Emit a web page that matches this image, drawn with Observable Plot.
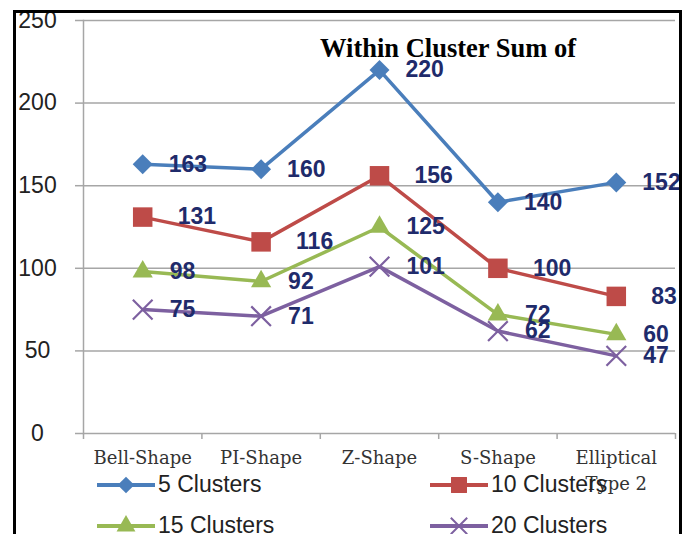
<!DOCTYPE html>
<html>
<head>
<meta charset="utf-8">
<script src="https://cdn.jsdelivr.net/npm/d3@7"></script>
<script src="https://cdn.jsdelivr.net/npm/@observablehq/plot@0.6"></script>
<style>
  html, body { margin: 0; padding: 0; background: #fff; }
  #chart { position: relative; width: 686px; height: 534px; overflow: hidden; background: #fff; }
  #chart > svg { position: absolute; left: 0; top: 0; }
  .frame { position: absolute; left: 13px; top: 10px; width: 663px; height: 600px;
           border: 3px solid #000; border-bottom: none; pointer-events: none; }
  .title { position: absolute; left: 248px; width: 400px; top: 35px; text-align: center;
           font: bold 26.5px "Liberation Serif", "Times New Roman", serif; color: #000; line-height: 1; }
  .legend-item { position: absolute; display: flex; align-items: center;
                 font: 23px "Liberation Sans", Arial, sans-serif; color: #222; white-space: nowrap; }
  .legend-item svg { display: block; margin-right: 1px; }
</style>
</head>
<body>
<div id="chart"></div>
<script>
// Shapes on the x axis and the within-cluster sums for each cluster count
const categories = ["Bell-Shape", "PI-Shape", "Z-Shape", "S-Shape", "Elliptical\nType 2"];
const seriesNames = ["5 Clusters", "10 Clusters", "15 Clusters", "20 Clusters"];
const clusters5  = [163, 160, 220, 140, 152];
const clusters10 = [131, 116, 156, 100, 83];
const clusters15 = [98, 92, 125, 72, 60];
const clusters20 = [75, 71, 101, 62, 47];
const yTicks = [0, 50, 100, 150, 200, 250];
const titleText = "Within Cluster Sum of";

// Series styling
const colors  = ["#4A7EBB", "#BE4B48", "#98B954", "#7D60A0"];
const symbols = ["diamond2", "square", "triangle", "times"];
const radii   = [9, 11, 7.5, 9];
const labelDx = [26, 35, 27, 27];

const seriesValues = [clusters5, clusters10, clusters15, clusters20];
const rows = seriesValues.flatMap((vals, s) =>
  vals.map((value, i) => ({ series: seriesNames[s], s, i, value }))
);
const bounds = d3.range(categories.length + 1).map(i => i - 0.5);

const gray = "#A6A6A6";
const sans = "'Liberation Sans', Arial, sans-serif";

const marks = [
  Plot.gridY(yTicks, { stroke: gray, strokeOpacity: 1, strokeWidth: 1.5 }),
  Plot.frame({ anchor: "left", stroke: gray, strokeWidth: 1.5 }),
  Plot.axisY({
    ticks: yTicks, tickSize: 8, tickPadding: 38, stroke: gray, strokeWidth: 1.5, label: null,
    textAnchor: "middle", fontSize: 23, fontFamily: sans, fill: "#222"
  }),
  Plot.axisX({ ticks: bounds, tickSize: 6, tickFormat: () => "", stroke: gray, strokeWidth: 1.5, label: null }),
  Plot.axisX({
    ticks: d3.range(categories.length), tickSize: 0, tickPadding: 13, label: null,
    tickFormat: i => categories[i], fontSize: 18, lineHeight: 1.4,
    fontFamily: "'DejaVu Serif', serif", fill: "#333"
  }),
  Plot.line(rows, { x: "i", y: "value", z: "series", stroke: "series", strokeWidth: 3.5 })
];

seriesNames.forEach((name, s) => {
  const data = rows.filter(d => d.s === s);
  const filled = symbols[s] !== "times";
  marks.push(Plot.dot(data, {
    x: "i", y: "value", symbol: () => symbols[s], r: radii[s],
    fill: filled ? colors[s] : "none",
    stroke: colors[s], strokeWidth: filled ? 0 : 2.2
  }));
});

seriesNames.forEach((name, s) => {
  marks.push(Plot.text(rows.filter(d => d.s === s), {
    x: "i", y: "value", text: d => String(d.value), dx: labelDx[s],
    textAnchor: "start", fill: "#1F2B6B", fontWeight: "bold",
    fontSize: 23, fontFamily: sans
  }));
});

const chart = Plot.plot({
  width: 686, height: 534,
  marginLeft: 83, marginRight: 11, marginTop: 20, marginBottom: 101,
  x: { domain: [-0.5, categories.length - 0.5], axis: null },
  y: { domain: [0, 250], axis: null },
  color: { domain: seriesNames, range: colors },
  symbol: { domain: symbols, range: symbols },
  style: { background: "transparent", overflow: "visible" },
  marks
});

const root = document.getElementById("chart");
root.appendChild(chart);

const title = document.createElement("div");
title.className = "title";
title.textContent = titleText;
root.appendChild(title);

// Legend: two columns, two rows
const legendPos = [[95, 471], [428, 471], [95, 512], [428, 512]];
const legendR = [7.5, 9, 7, 7.5];
seriesNames.forEach((name, s) => {
  const item = document.createElement("div");
  item.className = "legend-item";
  item.style.left = legendPos[s][0] + "px";
  item.style.top = legendPos[s][1] + "px";
  const svg = d3.create("svg").attr("width", 62).attr("height", 26);
  svg.append("line").attr("x1", 2).attr("x2", 60).attr("y1", 13).attr("y2", 13)
    .attr("stroke", colors[s]).attr("stroke-width", 4);
  const symType = { diamond2: d3.symbolDiamond2, square: d3.symbolSquare,
                    triangle: d3.symbolTriangle, times: d3.symbolTimes }[symbols[s]];
  const path = svg.append("path")
    .attr("transform", "translate(31,13)")
    .attr("d", d3.symbol(symType, Math.PI * legendR[s] * legendR[s])());
  if (symbols[s] === "times") path.attr("fill", "none").attr("stroke", colors[s]).attr("stroke-width", 2);
  else path.attr("fill", colors[s]);
  item.appendChild(svg.node());
  const span = document.createElement("span");
  span.textContent = name;
  item.appendChild(span);
  root.appendChild(item);
});

const frame = document.createElement("div");
frame.className = "frame";
root.appendChild(frame);
</script>
</body>
</html>
